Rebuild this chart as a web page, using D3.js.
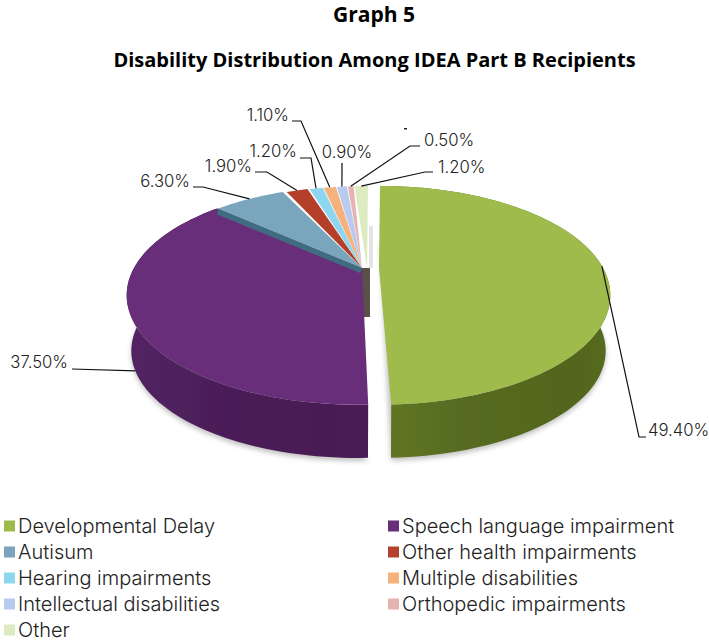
<!DOCTYPE html>
<meta charset="utf-8">
<style>
body { margin: 0; background: #fff; }
text { font-family: "Inter", "Lato", sans-serif; font-weight: 300; fill: #222; }
.title { font-family: "Open Sans", sans-serif; font-weight: 700; font-size: 20px; fill: #000; }
.label { font-size: 16.7px; }
.legend { font-size: 20px; }
.leader { fill: none; stroke: #111; stroke-width: 1.2px; }
</style>
<svg width="709" height="642"></svg>
<script src="https://d3js.org/d3.v7.min.js"></script>
<script>

var categories = ["Developmental Delay", "Speech language impairment", "Autisum", "Other health impairments",
  "Hearing impairments", "Multiple disabilities", "Intellectual disabilities", "Orthopedic impairments", "Other"];
var values = [49.4, 37.5, 6.3, 1.9, 1.2, 1.1, 0.9, 0.5, 1.2];
var topColors = ["#9fbb4c", "#682e79", "#79a6bc", "#b4412c", "#8ed6ef", "#f6b27c", "#b8caee", "#e6b3b2", "#dcecc0"];
var sideColors = ["#566b20", "#4b1f59", "#3f6c82", "#7a2a1c", "#4f9fbb", "#b97a3e", "#7c90b8", "#a87c7b", "#9cab80"];

// slices are pulled apart sideways, px
var shiftX = [22, -1, 0, 4, 6, 7, 8, 9, 10];
var apexX = [379, 362, 362, 362, 362, 362, 362, 362, 367];

// leader elbows and label spots, same order as values
var labelSpots = [
  { elbow: [639, 437], end: [646, 437], x: 648, y: 430, anchor: "start" },
  { elbow: [72, 369], end: [72, 369], x: 68, y: 362, anchor: "end", low: true },
  { elbow: [203, 187], end: [193, 187], x: 190, y: 181, anchor: "end" },
  { elbow: [267, 172], end: [255, 172], x: 252, y: 166, anchor: "end" },
  { elbow: [311, 158], end: [300, 158], x: 297, y: 151, anchor: "end" },
  { elbow: [301, 121], end: [292, 121], x: 289, y: 115, anchor: "end" },
  { elbow: [342, 163], end: [342, 163], x: 347, y: 152, anchor: "middle" },
  { elbow: [410, 146], end: [420, 146], x: 424, y: 140, anchor: "start" },
  { elbow: [425, 172], end: [433, 172], x: 438, y: 167, anchor: "start" }
];

var svg = d3.select("svg");

var cx = 358, cy = 268, rx = 223, ry = 102.5, persp = 0.25;
var drop = 56, shrink = 0.98;

var pie = d3.pie().sort(null).value(function(d) { return d; });
var arcs = pie(values);
var line = d3.line();

// circle to screen, near edge comes out bigger
function rim(a, i, low) {
  var u = Math.sin(a), v = -Math.cos(a), w = 1 - persp * v;
  var s = low ? shrink : 1;
  return [cx + shiftX[i] + s * rx * u / w, cy + (low ? drop : 0) + s * ry * v / w];
}

function rimPoints(d, i, low) {
  var n = Math.max(2, Math.ceil((d.endAngle - d.startAngle) / 0.03));
  return d3.range(n + 1).map(function(k) {
    return rim(d.startAngle + (d.endAngle - d.startAngle) * k / n, i, low);
  });
}

var defs = svg.append("defs");
defs.append("filter").attr("id", "soft").append("feGaussianBlur").attr("stdDeviation", 0.45);
defs.append("filter").attr("id", "shadow").append("feGaussianBlur").attr("stdDeviation", 2.5);

function sideGrad(i) {
  var c = d3.color(sideColors[i]);
  var g = defs.append("linearGradient").attr("id", "side" + i);
  g.append("stop").attr("offset", "0%").attr("stop-color", c.brighter(0.3));
  g.append("stop").attr("offset", "35%").attr("stop-color", c);
  g.append("stop").attr("offset", "85%").attr("stop-color", c.darker(0.15));
  g.append("stop").attr("offset", "100%").attr("stop-color", c);
}
values.forEach(function(v, i) { sideGrad(i); });

var chart = svg.append("g").attr("filter", "url(#soft)");

// faint shadow under the wall
chart.append("g").selectAll("path")
  .data(arcs.slice(0, 2))
  .enter().append("path")
  .attr("filter", "url(#shadow)")
  .attr("fill", "#999")
  .attr("opacity", 0.6)
  .attr("d", function(d, i) {
    var pts = rimPoints(d, i, true).map(function(p) { return [p[0], p[1] + 3]; });
    return line(pts) + "Z";
  });

// grey haze and dark core seen in the gap behind the green slice
chart.append("path")
  .attr("fill", "#e4e4e4")
  .attr("d", line([[369, cy - 42], [373, cy - 42], [373, cy], [369, cy]]) + "Z");
chart.append("path")
  .attr("fill", "#5a5048")
  .attr("d", line([[360, cy], [370, cy], [370, cy + drop - 7], [360, cy + drop - 7]]) + "Z");

// outer walls, only the two big slices show theirs
chart.append("g").selectAll("path")
  .data(arcs.slice(0, 2))
  .enter().append("path")
  .attr("fill", function(d, i) { return "url(#side" + i + ")"; })
  .attr("d", function(d, i) {
    return line(rimPoints(d, i, false).concat(rimPoints(d, i, true).reverse())) + "Z";
  });

// purple top has to go down before the blue slice's cut edge
var tops = chart.append("g");
tops.selectAll("path")
  .data(arcs)
  .enter().append("path")
  .attr("fill", function(d, i) { return topColors[i]; })
  .attr("d", function(d, i) {
    return line([[apexX[i], cy]].concat(rimPoints(d, i, false))) + "Z";
  });

// cut edge of the blue slice, lifted off the purple one
var blueStart = rim(arcs[2].startAngle, 2, false);
chart.append("path")
  .attr("fill", sideColors[2])
  .attr("d", line([blueStart, [blueStart[0] - 1, blueStart[1] + 6], [apexX[2] - 2, cy + 5], [apexX[2], cy]]) + "Z");

// leaders, from the middle of each slice's rim
svg.append("g").selectAll("path")
  .data(arcs)
  .enter().append("path")
  .attr("class", "leader")
  .attr("d", function(d, i) {
    var s = labelSpots[i];
    return line([rim((d.startAngle + d.endAngle) / 2, i, s.low), s.elbow, s.end]);
  });

svg.append("g").selectAll("text")
  .data(values)
  .enter().append("text")
  .attr("class", "label")
  .attr("x", function(d, i) { return labelSpots[i].x; })
  .attr("y", function(d, i) { return labelSpots[i].y; })
  .attr("dy", "0.35em")
  .attr("text-anchor", function(d, i) { return labelSpots[i].anchor; })
  .text(function(d) { return d.toFixed(2) + "%"; });

// stray speck above the 0.50% label in the original
svg.append("rect").attr("x", 404).attr("y", 128).attr("width", 3).attr("height", 1.5).attr("fill", "#222");

svg.append("text").attr("class", "title").attr("x", 374).attr("y", 22).attr("text-anchor", "middle").style("font-size", "21px").text("Graph 5");
svg.append("text").attr("class", "title").attr("x", 374.5).attr("y", 67).attr("text-anchor", "middle")
  .text("Disability Distribution Among IDEA Part B Recipients");

// legend, two columns
var legend = svg.append("g").selectAll("g")
  .data(categories)
  .enter().append("g")
  .attr("transform", function(d, i) {
    return "translate(" + (i % 2 ? 388 : 4) + "," + (526 + Math.floor(i / 2) * 26) + ")";
  });

legend.append("rect")
  .attr("y", -5.5)
  .attr("width", 11)
  .attr("height", 11)
  .attr("fill", function(d, i) { return topColors[i]; });

legend.append("text")
  .attr("class", "legend")
  .attr("x", 14)
  .attr("dy", "0.35em")
  .text(function(d) { return d; });

</script>
